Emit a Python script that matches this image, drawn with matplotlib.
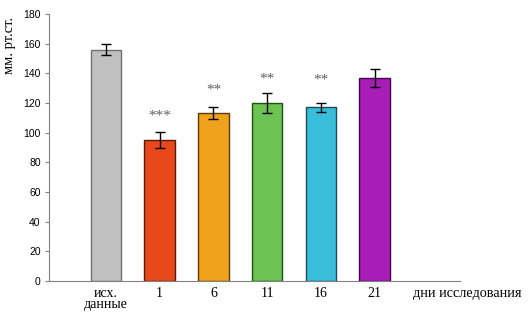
import matplotlib
matplotlib.use("Agg")
import matplotlib.pyplot as plt

categories = ["исх.\nданные", "1", "6", "11", "16", "21"]
values = [156, 95, 113, 120, 117, 137]
errors = [3.6, 5.5, 4.0, 7.0, 3.0, 6.0]
stars = ["", "***", "**", "**", "**", ""]
star_y = [0, 111, 129, 136, 135.5, 0]
colors = ["#C0C0C0", "#E8481C", "#F0A21C", "#6CC252", "#38BED8", "#A81CB8"]
edges = ["#707070", "#5A1A08", "#5A3A08", "#24501A", "#1A4A58", "#40084A"]
yticks = [0, 20, 40, 60, 80, 100, 120, 140, 160, 180]

fig = plt.figure(figsize=(5.32, 3.19), dpi=100)
ax = fig.add_axes([49/532, 38/319, (460-49)/532, (281-14)/319])
x = list(range(len(categories)))
ax.bar(x, values, width=0.57, color=colors, edgecolor=edges, linewidth=1.0,
       yerr=errors, error_kw=dict(ecolor="black", elinewidth=1.0, capsize=3.5, capthick=1.0))
for xi, s, sy in zip(x, stars, star_y):
    if s:
        ax.text(xi, sy, s, ha="center", va="center", fontsize=11, color="#606060",
                family="Liberation Serif")
ax.set_xlim(-1.06, 6.59)
ax.set_ylim(0, 180)
ax.set_yticks(yticks)
ax.set_xticks(x)
ax.set_xticklabels(categories, family="Liberation Serif", fontsize=10, linespacing=0.8)
ax.tick_params(axis="x", length=0, pad=4)
ax.tick_params(axis="y", length=3, width=0.8, color="#808080", labelsize=7.5, pad=3)
for lab in ax.get_yticklabels():
    lab.set_family("Liberation Sans")
for sp in ["top", "right"]:
    ax.spines[sp].set_visible(False)
for sp in ["left", "bottom"]:
    ax.spines[sp].set_color("#808080")
    ax.spines[sp].set_linewidth(0.8)
fig.text(413/532, 1 - 293/319, "дни исследования", family="Liberation Serif", fontsize=10.3,
         ha="left", va="center")
fig.text(10/532, 1 - 45/319, "мм. рт.ст.", family="Liberation Serif", fontsize=10.5,
         rotation=90, ha="center", va="center")
fig.savefig("out.png", dpi=100)
